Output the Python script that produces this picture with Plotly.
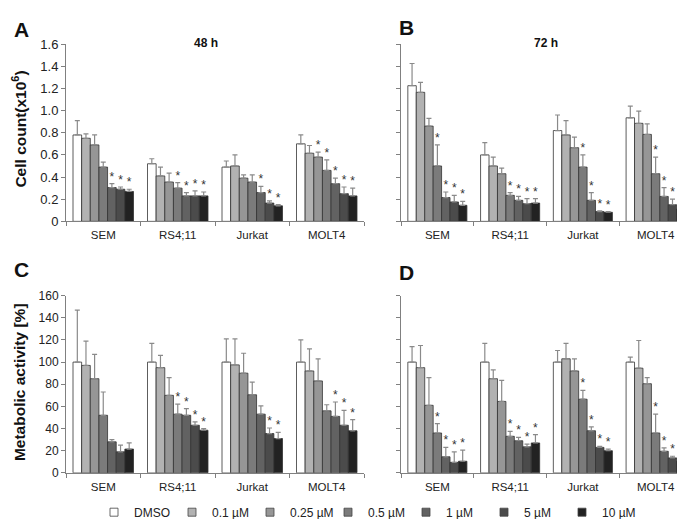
import plotly.graph_objects as go
from plotly.subplots import make_subplots

cell_lines = ["SEM", "RS4;11", "Jurkat", "MOLT4"]
doses = ["DMSO", "0.1 µM", "0.25 µM", "0.5 µM", "1 µM", "5 µM", "10 µM"]
dose_colors = ["#ffffff", "#b2b2b2", "#969696", "#7b7b7b", "#626262", "#4b4b4b", "#222222"]

# A: cell count 48 h (x10^6), rows = cell lines, cols = doses
count_48_mean = [
    [0.78, 0.75, 0.69, 0.49, 0.305, 0.29, 0.27],
    [0.52, 0.41, 0.355, 0.30, 0.23, 0.23, 0.23],
    [0.49, 0.50, 0.39, 0.355, 0.26, 0.165, 0.14],
    [0.70, 0.615, 0.58, 0.46, 0.34, 0.25, 0.23],
]
count_48_sd = [
    [0.13, 0.04, 0.09, 0.045, 0.035, 0.02, 0.02],
    [0.045, 0.08, 0.08, 0.05, 0.03, 0.045, 0.035],
    [0.055, 0.10, 0.03, 0.065, 0.055, 0.02, 0.012],
    [0.08, 0.07, 0.045, 0.095, 0.05, 0.06, 0.07],
]
count_48_sig = [
    [0, 0, 0, 0, 1, 1, 1],
    [0, 0, 0, 1, 1, 1, 1],
    [0, 0, 0, 0, 1, 1, 1],
    [0, 0, 1, 1, 1, 1, 1],
]

# B: cell count 72 h
count_72_mean = [
    [1.225, 1.165, 0.86, 0.50, 0.215, 0.175, 0.145],
    [0.60, 0.50, 0.43, 0.235, 0.19, 0.16, 0.165],
    [0.82, 0.78, 0.665, 0.49, 0.19, 0.088, 0.082],
    [0.935, 0.885, 0.785, 0.43, 0.225, 0.15, 0.112],
]
count_72_sd = [
    [0.20, 0.09, 0.07, 0.19, 0.05, 0.06, 0.035],
    [0.11, 0.08, 0.05, 0.025, 0.035, 0.045, 0.04],
    [0.14, 0.13, 0.095, 0.11, 0.07, 0.006, 0.006],
    [0.105, 0.11, 0.095, 0.15, 0.08, 0.05, 0.03],
]
count_72_sig = [
    [0, 0, 0, 1, 1, 1, 1],
    [0, 0, 0, 1, 1, 1, 1],
    [0, 0, 0, 1, 1, 1, 1],
    [0, 0, 0, 1, 1, 1, 1],
]

# C: metabolic activity 48 h (%)
meta_48_mean = [
    [100, 97, 85, 52, 28, 19, 21.5],
    [100, 95, 70, 53, 52, 43, 38.5],
    [100, 97.5, 90, 70.5, 53, 35.5, 31],
    [100, 92, 83, 56, 51, 43, 38],
]
meta_48_sd = [
    [47, 22, 22, 21, 2, 6, 5.5],
    [17, 11, 16, 9, 6, 3, 1.5],
    [21, 23.5, 18, 11.5, 7.5, 5, 5.5],
    [20, 20, 20, 5.5, 13, 13.5, 10],
]
meta_48_sig = [
    [0, 0, 0, 0, 0, 0, 0],
    [0, 0, 0, 1, 1, 1, 1],
    [0, 0, 0, 0, 0, 1, 1],
    [0, 0, 0, 0, 1, 1, 1],
]

# D: metabolic activity 72 h (%)
meta_72_mean = [
    [100, 95, 61, 36, 14.5, 9.5, 10.5],
    [100, 85, 64.5, 33, 29, 23.5, 27],
    [100, 103, 92, 66.5, 38, 23, 20],
    [100, 94.5, 80.5, 36, 19.5, 13.5, 10.5],
]
meta_72_sd = [
    [14, 20, 25, 8.5, 8.5, 9.5, 10],
    [17, 8, 19, 4.5, 3, 2.5, 7.5],
    [10.5, 14, 11, 8, 3.5, 1, 1.5],
    [4.5, 25, 5.5, 17, 3, 1.5, 2],
]
meta_72_sig = [
    [0, 0, 0, 1, 1, 1, 1],
    [0, 0, 0, 1, 1, 1, 1],
    [0, 0, 0, 1, 1, 1, 1],
    [0, 0, 0, 1, 1, 1, 1],
]

count_ticks = [0, 0.2, 0.4, 0.6, 0.8, 1.0, 1.2, 1.4, 1.6]
count_ticktext = ["0", "0.2", "0.4", "0.6", "0.8", "1.0", "1.2", "1.4", "1.6"]
meta_ticks = [0, 20, 40, 60, 80, 100, 120, 140, 160]

W, H = 685, 519
FONT = "Liberation Sans, Arial, sans-serif"
AXIS_GREY = "#808080"
BAR_W = 0.116


def px(x):
    return x / W


def py(y):
    return 1 - y / H


fig = make_subplots(rows=2, cols=2)

panels = [
    (1, 1, count_48_mean, count_48_sd, count_48_sig),
    (1, 2, count_72_mean, count_72_sd, count_72_sig),
    (2, 1, meta_48_mean, meta_48_sd, meta_48_sig),
    (2, 2, meta_72_mean, meta_72_sd, meta_72_sig),
]

for row, col, mean, sd, sig in panels:
    for j, dose in enumerate(doses):
        xs = [i + (j - 3) * BAR_W for i in range(len(cell_lines))]
        ys = [mean[i][j] for i in range(len(cell_lines))]
        ups = [sd[i][j] for i in range(len(cell_lines))]
        fig.add_trace(go.Bar(
            x=xs, y=ys, width=BAR_W, name=dose, showlegend=False,
            marker=dict(color=dose_colors[j], line=dict(color="#333333", width=0.8)),
            error_y=dict(type="data", symmetric=False, array=ups,
                         arrayminus=[0] * len(ups), color="#8a8a8a",
                         thickness=1.2, width=2.5),
        ), row=row, col=col)
    # significance stars (text) just above the error bar caps
    sx, sy = [], []
    for i in range(len(cell_lines)):
        for j in range(len(doses)):
            if sig[i][j]:
                sx.append(i + (j - 3) * BAR_W)
                sy.append(mean[i][j] + sd[i][j])
    fig.add_trace(go.Scatter(
        x=sx, y=sy, mode="text", text=["*"] * len(sx),
        textposition="top center", showlegend=False, hoverinfo="skip",
        textfont=dict(family=FONT, size=12, color="#333333"),
    ), row=row, col=col)

# legend entries: small outlined squares like the original
for j, dose in enumerate(doses):
    fig.add_trace(go.Scatter(
        x=[None], y=[None], mode="markers", name=dose,
        marker=dict(symbol="square", size=8, color=dose_colors[j],
                    line=dict(color="#444444", width=0.8)),
    ), row=1, col=1)

# domains in pixel terms
left_x = [px(58), px(356)]
right_x = [px(393), px(684)]
top_y = [py(212.5), py(30)]
bot_y = [py(471.5), py(289)]

xcommon = dict(
    range=[-0.5, 3.5], tickmode="array", tickvals=[0, 1, 2, 3], ticktext=cell_lines,
    ticks="", showline=True, linecolor=AXIS_GREY, linewidth=1, showgrid=False,
    zeroline=False, tickfont=dict(family=FONT, size=11.5, color="#222222"),
    ticklabelstandoff=3,
    minor=dict(tickmode="array", tickvals=[-0.5, 0.5, 1.5, 2.5, 3.5], ticks="outside",
               ticklen=4, tickcolor=AXIS_GREY, showgrid=False),
)
ycommon = dict(
    showline=True, linecolor=AXIS_GREY, linewidth=1, showgrid=False, zeroline=False,
    ticks="outside", ticklen=4, tickcolor=AXIS_GREY, tickmode="array",
)

fig.update_layout(
    xaxis=dict(domain=left_x, **xcommon),
    xaxis2=dict(domain=right_x, **xcommon),
    xaxis3=dict(domain=left_x, **xcommon),
    xaxis4=dict(domain=right_x, **xcommon),
    yaxis=dict(domain=top_y, range=[0, 1.6], tickvals=count_ticks, ticktext=count_ticktext,
               tickfont=dict(family=FONT, size=13, color="#222222"), **ycommon),
    yaxis2=dict(domain=top_y, range=[0, 1.6], tickvals=count_ticks, showticklabels=False, **ycommon),
    yaxis3=dict(domain=bot_y, range=[0, 160], tickvals=meta_ticks,
                tickfont=dict(family=FONT, size=12, color="#222222"), **ycommon),
    yaxis4=dict(domain=bot_y, range=[0, 160], tickvals=meta_ticks, showticklabels=False, **ycommon),
)

annots = [
    ("A", 13, 15, 21, 0), ("B", 398, 13, 21, 0),
    ("C", 13, 262, 21, 0), ("D", 398, 265, 21, 0),
    ("48 h", 198, 29, 12, 0), ("72 h", 538, 29, 12, 0),
    ("Cell count(x10<sup>6</sup>)", 11, 118, 15.5, -90),
    ("Metabolic activity [%]", 11, 378, 15.5, -90),
]
for text, x, y, size, angle in annots:
    fig.add_annotation(
        text=f"<b>{text}</b>", x=px(x), y=py(y),
        xref="paper", yref="paper", xanchor="center", yanchor="middle",
        showarrow=False, textangle=angle,
        font=dict(family=FONT, size=size, color="#111111"),
    )

fig.update_layout(
    width=W, height=H, margin=dict(l=0, r=0, t=0, b=0),
    paper_bgcolor="white", plot_bgcolor="white", barmode="overlay",
    font=dict(family=FONT, color="#222222"),
    legend=dict(orientation="h", x=px(86), y=py(512), xanchor="left", yanchor="middle",
                entrywidth=33, entrywidthmode="pixels", itemwidth=30,
                font=dict(family=FONT, size=12, color="#222222"),
                bgcolor="rgba(0,0,0,0)", traceorder="normal"),
)

fig.write_html("out.html")
